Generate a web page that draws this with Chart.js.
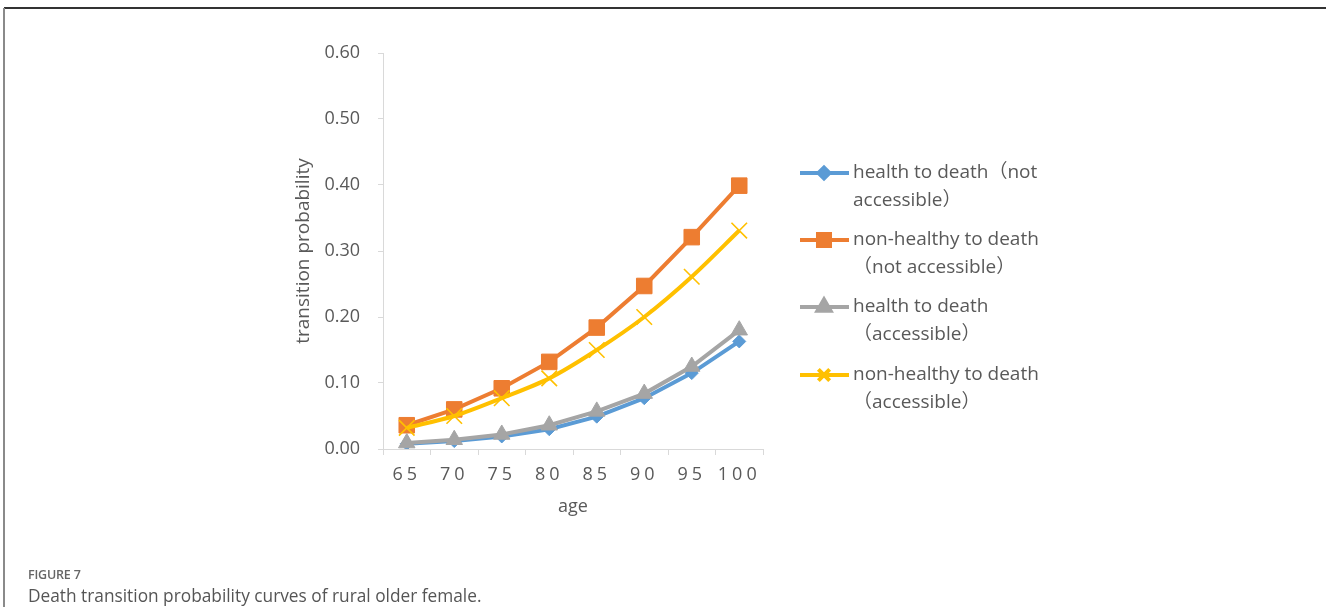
<!DOCTYPE html>
<html>
<head>
<meta charset="utf-8">
<script src="https://cdn.jsdelivr.net/npm/chart.js@4.4.1/dist/chart.umd.min.js"></script>
<style>
  html, body { margin: 0; padding: 0; background: #fff; }
  body { width: 1326px; height: 607px; position: relative; overflow: hidden; font-family: "Open Sans", "Noto Sans", sans-serif; }
  #wrap { position: absolute; left: 0; top: 0; width: 1326px; height: 607px; }
  .topline { position: absolute; left: 4px; top: 7px; width: 1322px; height: 2px; background: #333; }
  .leftline { position: absolute; left: 3px; top: 8px; width: 2px; height: 599px; background: #8a8a8a; }
  .fig { position: absolute; left: 28px; top: 566px; font-size: 12.5px; font-weight: 600; color: #666; letter-spacing: -0.2px; }
  .cap { position: absolute; left: 28px; top: 584px; font-size: 17.3px; color: #555; line-height: 24px; }
</style>
</head>
<body>
<div id="wrap"><canvas id="c" width="1326" height="607"></canvas></div>
<div class="topline"></div>
<div class="leftline"></div>
<div class="fig">FIGURE 7</div>
<div class="cap">Death transition probability curves of rural older female.</div>
<script>
const ages = ['65', '70', '75', '80', '85', '90', '95', '100'];
const yTicks = [0, 0.1, 0.2, 0.3, 0.4, 0.5, 0.6];
const healthNotAcc    = [0.008, 0.012, 0.019, 0.030, 0.049, 0.077, 0.115, 0.163];
const nonHealthNotAcc = [0.036, 0.060, 0.092, 0.132, 0.184, 0.247, 0.321, 0.399];
const healthAcc       = [0.009, 0.014, 0.022, 0.036, 0.057, 0.084, 0.125, 0.180];
const nonHealthAcc    = [0.032, 0.050, 0.077, 0.107, 0.150, 0.200, 0.261, 0.331];
const seriesNames = [
  ['health to death（not', 'accessible）'],
  ['non-healthy to death', '（not accessible）'],
  ['health to death', '（accessible）'],
  ['non-healthy to death', '（accessible）']
];
const colors = ['#5B9BD5', '#ED7D31', '#A5A5A5', '#FFC000'];

const FONT = '"Open Sans", "Noto Sans CJK SC", sans-serif';
const TXT = '#595959';

const series = [healthNotAcc, nonHealthNotAcc, healthAcc, nonHealthAcc];
const styles = [
  { pointStyle: 'rectRot', r: 6.5, lr: 5.5, bw: 1, tension: 0 },
  { pointStyle: 'rect', r: 11, lr: 8.5, bw: 1, tension: 0 },
  { pointStyle: 'triangle', r: 9.5, lr: 7.5, bw: 1, tension: 0 },
  { pointStyle: 'crossRot', r: 11, lr: 8, bw: 1.6, tension: 0.3 }
];
const orders = [4, 3, 2, 1];

const datasets = series.map((d, i) => ({
  label: seriesNames[i].join(''),
  data: d,
  borderColor: colors[i],
  backgroundColor: colors[i],
  pointBackgroundColor: colors[i],
  pointBorderColor: colors[i],
  pointStyle: styles[i].pointStyle,
  pointRadius: styles[i].r,
  pointBorderWidth: styles[i].bw,
  borderWidth: 4,
  tension: styles[i].tension,
  order: orders[i],
  fill: false
}));

const legendPlugin = {
  id: 'customLegend',
  afterDraw(chart) {
    const ctx = chart.ctx;
    ctx.save();
    const rowY = [173, 240, 307, 375];
    seriesNames.forEach((lines, i) => {
      const y = rowY[i];
      ctx.strokeStyle = colors[i];
      ctx.lineWidth = 4;
      ctx.beginPath();
      ctx.moveTo(800, y);
      ctx.lineTo(849, y);
      ctx.stroke();
      ctx.fillStyle = colors[i];
      Chart.helpers.drawPoint(ctx, {
        pointStyle: styles[i].pointStyle,
        radius: styles[i].lr,
        borderWidth: styles[i].bw,
        rotation: 0
      }, 824, y);
      if (styles[i].pointStyle !== 'crossRot') ctx.fill();
      ctx.fillStyle = TXT;
      ctx.font = '19px ' + FONT;
      ctx.textBaseline = 'middle';
      ctx.textAlign = 'left';
      lines.forEach((t, k) => ctx.fillText(t, 853, y + k * 28));
    });
    ctx.restore();
  }
};

const spacingPlugin = {
  id: 'xLetterSpacing',
  beforeDraw(chart) {
    const s = chart.scales.x;
    if (s && !s._spaced) {
      const orig = s.drawLabels.bind(s);
      s.drawLabels = function (a) {
        const ctx = chart.ctx;
        ctx.save();
        ctx.letterSpacing = '4px';
        orig(a);
        ctx.restore();
      };
      s._spaced = true;
    }
  }
};

new Chart(document.getElementById('c'), {
  type: 'line',
  data: { labels: ages, datasets },
  options: {
    responsive: false,
    animation: false,
    devicePixelRatio: 1,
    layout: { padding: { left: 280, right: 563, top: 53, bottom: 0 } },
    plugins: { legend: { display: false }, tooltip: { enabled: false } },
    scales: {
      x: {
        type: 'category',
        offset: true,
        afterFit(scale) { scale.height = 158; },
        grid: { display: true, offset: true, drawOnChartArea: false, drawTicks: true, tickLength: 6, color: '#d9d9d9', lineWidth: 1 },
        border: { display: true, color: '#d9d9d9', width: 1 },
        ticks: { color: TXT, font: { family: FONT, size: 18 }, padding: 9, maxRotation: 0, autoSkip: false },
        title: { display: true, text: 'age', color: TXT, font: { family: FONT, size: 18 }, padding: { top: 0, bottom: 89 } }
      },
      y: {
        min: 0,
        max: 0.6,
        afterFit(scale) { scale.width = 103; },
        afterBuildTicks(scale) { scale.ticks = yTicks.map(v => ({ value: v })); },
        grid: { display: true, drawOnChartArea: false, drawTicks: true, tickLength: 5, color: '#d9d9d9', lineWidth: 1 },
        border: { display: true, color: '#d9d9d9', width: 1 },
        ticks: { color: TXT, font: { family: FONT, size: 18 }, padding: 18, callback: v => Number(v).toFixed(2) },
        title: { display: true, text: 'transition probability', color: TXT, font: { family: FONT, size: 19 }, padding: { top: 12, bottom: 0 } }
      }
    }
  },
  plugins: [legendPlugin, spacingPlugin]
});
</script>
</body>
</html>
